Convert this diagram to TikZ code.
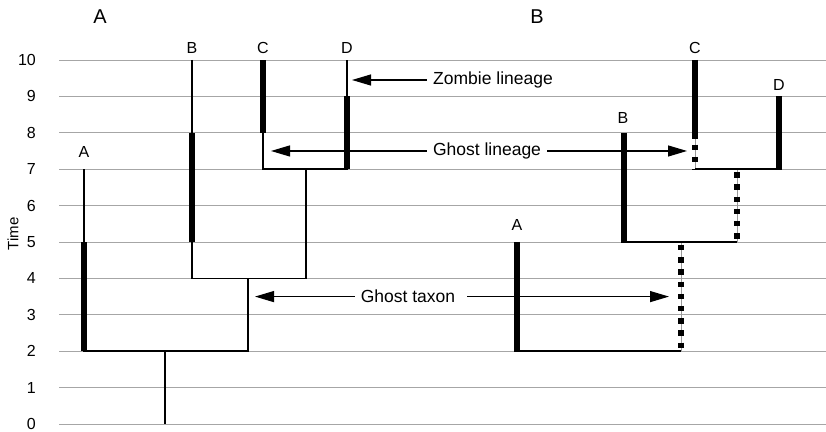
\documentclass[tikz,border=0pt]{standalone}
\usepackage{fontspec}
\setmainfont{Liberation Sans}
\usetikzlibrary{arrows.meta}

\begin{document}
\begin{tikzpicture}[
  x=1pt, y=36.4pt,
  gridline/.style={draw=gray!70, line width=0.9pt},
  ticklab/.style={anchor=east, inner sep=0pt, font=\fontsize{16}{18}\selectfont},
  taxon/.style={inner sep=0pt, font=\fontsize{16}{18}\selectfont},
  panel/.style={inner sep=0pt, font=\fontsize{20}{24}\selectfont},
  note/.style={inner sep=0pt, font=\fontsize{17.5}{20}\selectfont},
  branch/.style={line width=1.6pt},
  fossil/.style={line width=5.5pt},
  link/.style={line width=2.4pt},
  hidden/.style={draw=gray!80, line width=0.8pt},
  ghost/.style={line width=5.5pt, dash pattern=on 5.5pt off 6.7pt, dash phase=9.2pt},
  callout/.style={line width=1.2pt, -{Triangle[length=19pt,width=11pt]}}
]
\useasboundingbox (0,-0.2198) rectangle (826,11.648);

% time grid and axis
\foreach \t in {0,...,10} {
  \draw[gridline] (59,\t) -- (826,\t);
  \node[ticklab] (tick\t) at (36,\t) {\t};
}
\node[rotate=90, inner sep=0pt, font=\fontsize{15}{18}\selectfont] (timelab) at (13,5.22) {Time};

% panel titles
\node[panel] (titleA) at (100,11.18) {A};
\node[panel] (titleB) at (537,11.18) {B};

% ---------- tree A ----------
\node[taxon] (aA) at (84,7.47) {A};
\node[taxon] (aB) at (192,10.33) {B};
\node[taxon] (aC) at (263,10.33) {C};
\node[taxon] (aD) at (347,10.33) {D};

\draw[branch] (84,7) -- (84,2) -- (248,2) -- (248,4);
\draw[branch] (192,10) -- (192,4) -- (306,4) -- (306,7);
\draw[branch] (263,8) -- (263,7) -- (347,7) -- (347,10);
\draw[branch] (165,2) -- (165,0);

\draw[fossil] (84,2) -- (84,5);
\draw[fossil] (192,5) -- (192,8);
\draw[fossil] (263,8) -- (263,10);
\draw[fossil] (347,7) -- (347,9);

% ---------- tree B ----------
\node[taxon] (bA) at (517,5.47) {A};
\node[taxon] (bB) at (623,8.41) {B};
\node[taxon] (bC) at (695,10.33) {C};
\node[taxon] (bD) at (779,9.31) {D};

\draw[hidden] (695,7.83) -- (695,7);
\draw[hidden] (737,7) -- (737,5);
\draw[hidden] (681,5) -- (681,2);

\draw[fossil] (517,5) -- (517,2);
\draw[fossil] (624,8) -- (624,5);
\draw[fossil] (695,10) -- (695,7.83);
\draw[fossil] (779,9) -- (779,7);

\draw[link] (514.25,2) -- (681,2);
\draw[link] (621.25,5) -- (737,5);
\draw[link] (695,7) -- (781.75,7);

\draw[ghost, dash phase=6.5pt] (695,7.83) -- (695,7);
\draw[ghost] (737,7) -- (737,5);
\draw[ghost] (681,5) -- (681,2);

% ---------- callouts ----------
\node[note] (zombie) at (493,9.45) {Zombie lineage};
\coordinate (ztip) at (352,9.45);
\draw[callout, shorten <=6pt] (zombie.west) -- (ztip);

\node[note] (glin) at (487,7.5) {Ghost lineage};
\coordinate (gltipL) at (271,7.5);
\coordinate (gltipR) at (687,7.5);
\draw[callout, shorten <=6pt] (glin.west) -- (gltipL);
\draw[callout, shorten <=6pt] (glin.east) -- (gltipR);

\node[note] (gtax) at (408,3.5) {Ghost taxon};
\coordinate (gttipL) at (255,3.5);
\coordinate (gttipR) at (669,3.5);
\draw[callout, shorten <=6pt] (gtax.west) -- (gttipL);
\draw[callout, shorten <=12pt] (gtax.east) -- (gttipR);
\end{tikzpicture}
\end{document}
